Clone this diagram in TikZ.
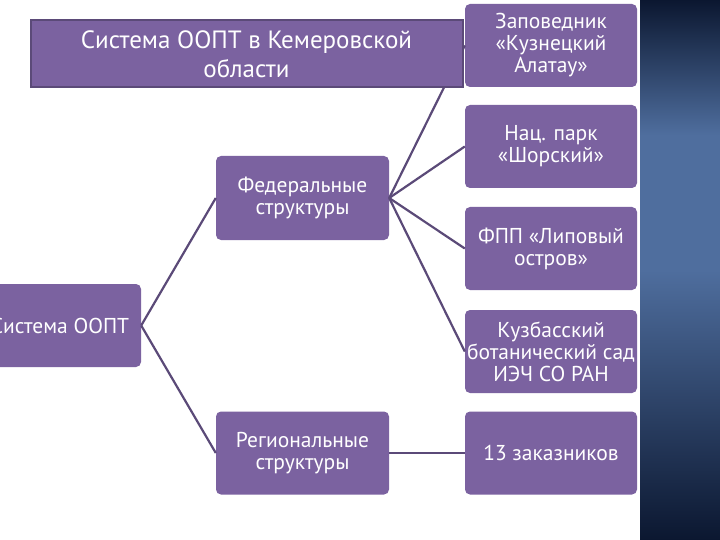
\documentclass[tikz,border=0pt]{standalone}
\usepackage{fontspec}
\setmainfont{PT Sans}
\begin{document}
\begin{tikzpicture}[x=1pt,y=-1pt,
  box/.style={draw=none,fill=boxc,rounded corners=5pt,text=white,align=center,font=\fontsize{21.5}{22}\selectfont,inner sep=0pt},
  conn/.style={draw=linec,line width=2.2pt}]
\definecolor{boxc}{HTML}{7B62A0}
\definecolor{linec}{HTML}{5B4A78}
\definecolor{navyA}{HTML}{0B1730}
\definecolor{navyB}{HTML}{4F6E9E}
\useasboundingbox (0,0) rectangle (720,540);
\clip (0,0) rectangle (720,540);
\fill[white] (0,0) rectangle (720,540);
\shade[top color=navyA,bottom color=navyB,middle color=navyB] (640,0) rectangle (720,270);
\shade[top color=navyB,bottom color=navyA] (640,270) rectangle (720,540);
% nodes
\node[box,minimum width=172pt,minimum height=83pt] (b1) at (551,45.5) {Заповедник\\«Кузнецкий\\Алатау»};
\node[box,minimum width=172pt,minimum height=83pt] (b2) at (551,146.5) {Нац. парк\\«Шорский»};
\node[box,minimum width=172pt,minimum height=83pt] (b3) at (551,248.5) {ФПП «Липовый\\остров»};
\node[box,minimum width=172pt,minimum height=83pt] (b4) at (551,351.5) {Кузбасский\\ботанический сад\\ИЭЧ СО РАН};
\node[box,minimum width=172pt,minimum height=83pt] (b5) at (551,453) {13 заказников};
\node[box,minimum width=173pt,minimum height=84pt] (fed) at (302.5,198) {Федеральные\\структуры};
\node[box,minimum width=173pt,minimum height=83pt] (reg) at (302.5,453) {Региональные\\структуры};
\node[box,minimum width=162pt,minimum height=83pt] (root) at (60,325.5) {Система ООПТ};
% connectors
\draw[conn] (root.east) -- (fed.west);
\draw[conn] (root.east) -- (reg.west);
\draw[conn] (fed.east) -- (b1.west);
\draw[conn] (fed.east) -- (b2.west);
\draw[conn] (fed.east) -- (b3.west);
\draw[conn] (fed.east) -- (b4.west);
\draw[conn] (reg.east) -- (b5.west);
% title
\node[draw=linec,line width=2pt,fill=boxc,text=white,align=center,minimum width=432pt,minimum height=67pt,inner sep=0pt,font=\fontsize{25}{29}\selectfont] (title) at (246.5,54) {Система ООПТ в Кемеровской\\области};
\end{tikzpicture}
\end{document}
